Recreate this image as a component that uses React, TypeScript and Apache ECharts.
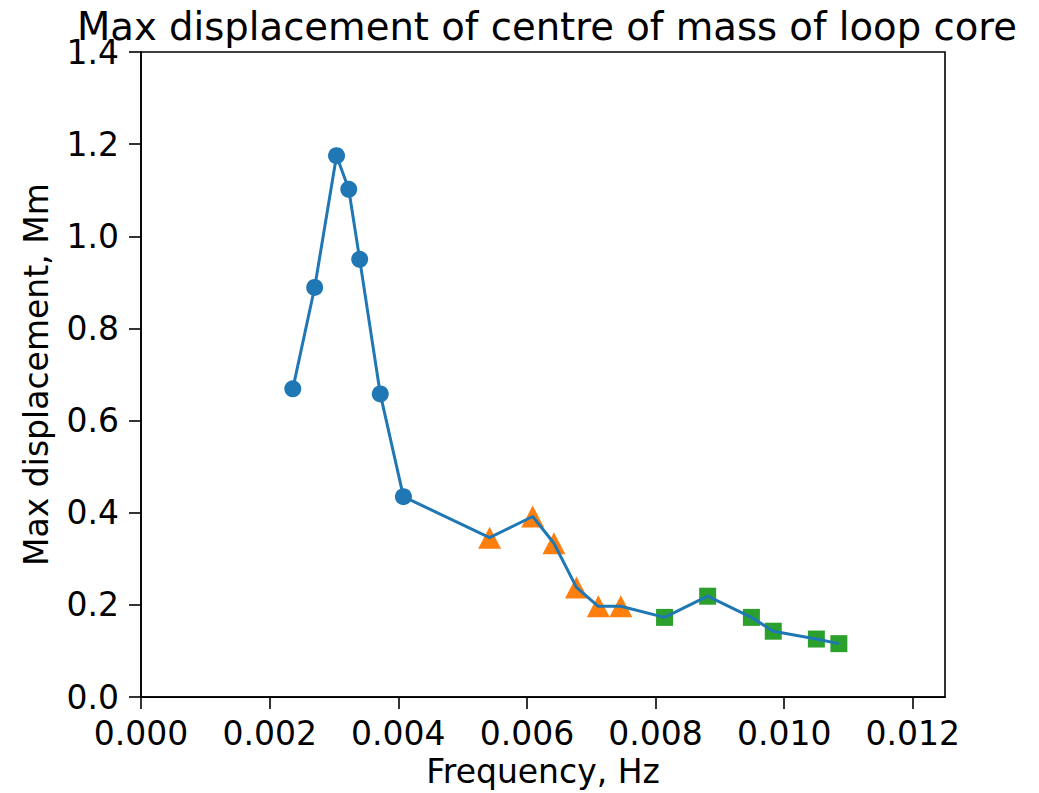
import React, { useEffect, useRef } from "react";
import * as echarts from "echarts";

const freqA = [0.00236, 0.0027, 0.00304, 0.00323, 0.0034, 0.00372, 0.00408];
const dispA = [0.669, 0.889, 1.175, 1.102, 0.95, 0.658, 0.435];
const freqB = [0.00542, 0.00609, 0.00642, 0.00677, 0.00711, 0.00746];
const dispB = [0.346, 0.392, 0.334, 0.238, 0.197, 0.197];
const freqC = [0.00814, 0.00881, 0.00949, 0.00983, 0.0105, 0.01085];
const dispC = [0.173, 0.219, 0.173, 0.143, 0.126, 0.116];
const xTicks = [0, 0.002, 0.004, 0.006, 0.008, 0.01, 0.012];
const yTicks = [0, 0.2, 0.4, 0.6, 0.8, 1.0, 1.2, 1.4];

const FONT = "DejaVu Sans";

export default function App() {
  const ref = useRef<HTMLDivElement>(null);
  useEffect(() => {
    document.body.style.margin = "0";
    const chart = echarts.init(ref.current!, null, { renderer: "svg" });
    const lineData: any[] = [];
    freqA.forEach((f, i) => lineData.push({ value: [f, dispA[i]] }));
    freqB.forEach((f, i) => lineData.push({ value: [f, dispB[i]], symbol: "none" }));
    freqC.forEach((f, i) => lineData.push({ value: [f, dispC[i]], symbol: "none" }));
    chart.setOption({
      animation: false,
      title: {
        text: "Max displacement of centre of mass of loop core",
        left: 542,
        top: 2,
        textAlign: "center",
        textStyle: { fontFamily: FONT, fontSize: 38.6, fontWeight: "normal", color: "#000" },
      },
      grid: {
        left: 141,
        right: 94,
        top: 52,
        bottom: 92,
        show: true,
        borderColor: "#000",
        borderWidth: 1.6,
        backgroundColor: "transparent",
      },
      xAxis: {
        type: "value",
        min: 0,
        max: 0.0125,
        interval: 0.002,
        name: "Frequency, Hz",
        nameLocation: "middle",
        nameGap: 56,
        nameTextStyle: { fontFamily: FONT, fontSize: 33, color: "#000" },
        axisLine: { show: true, onZero: false, lineStyle: { color: "#000", width: 1.6 } },
        axisTick: { show: true, length: 12, lineStyle: { color: "#000", width: 1.6 }, customValues: xTicks },
        axisLabel: {
          fontFamily: FONT,
          fontSize: 33,
          color: "#000",
          margin: 20,
          customValues: xTicks,
          formatter: (v: number) => v.toFixed(3),
        },
        splitLine: { show: false },
      },
      yAxis: {
        type: "value",
        min: 0,
        max: 1.4,
        interval: 0.2,
        name: "Max displacement, Mm",
        nameLocation: "middle",
        nameGap: 88,
        nameTextStyle: { fontFamily: FONT, fontSize: 33, color: "#000" },
        axisLine: { show: true, onZero: false, lineStyle: { color: "#000", width: 1.6 } },
        axisTick: { show: true, length: 12, lineStyle: { color: "#000", width: 1.6 }, customValues: yTicks },
        axisLabel: {
          fontFamily: FONT,
          fontSize: 33,
          color: "#000",
          margin: 22,
          customValues: yTicks,
          formatter: (v: number) => v.toFixed(1),
        },
        splitLine: { show: false },
      },
      series: [
        {
          type: "scatter",
          z: 1,
          symbol: "triangle",
          symbolSize: [23, 22],
          itemStyle: { color: "#ff7f0e", opacity: 1 },
          data: freqB.map((f, i) => [f, dispB[i]]),
        },
        {
          type: "scatter",
          z: 1,
          symbol: "rect",
          symbolSize: 17,
          itemStyle: { color: "#2ca02c", opacity: 1 },
          data: freqC.map((f, i) => [f, dispC[i]]),
        },
        {
          type: "line",
          z: 3,
          symbol: "circle",
          symbolSize: 17,
          showSymbol: true,
          itemStyle: { color: "#1f77b4", borderWidth: 0, opacity: 1 },
          lineStyle: { color: "#1f77b4", width: 3 },
          data: lineData,
        },
      ],
    });
    return () => chart.dispose();
  }, []);
  return (
    <div
      ref={ref}
      style={{ position: "absolute", left: 0, top: 0, width: 1039, height: 793, background: "#fff" }}
    />
  );
}
